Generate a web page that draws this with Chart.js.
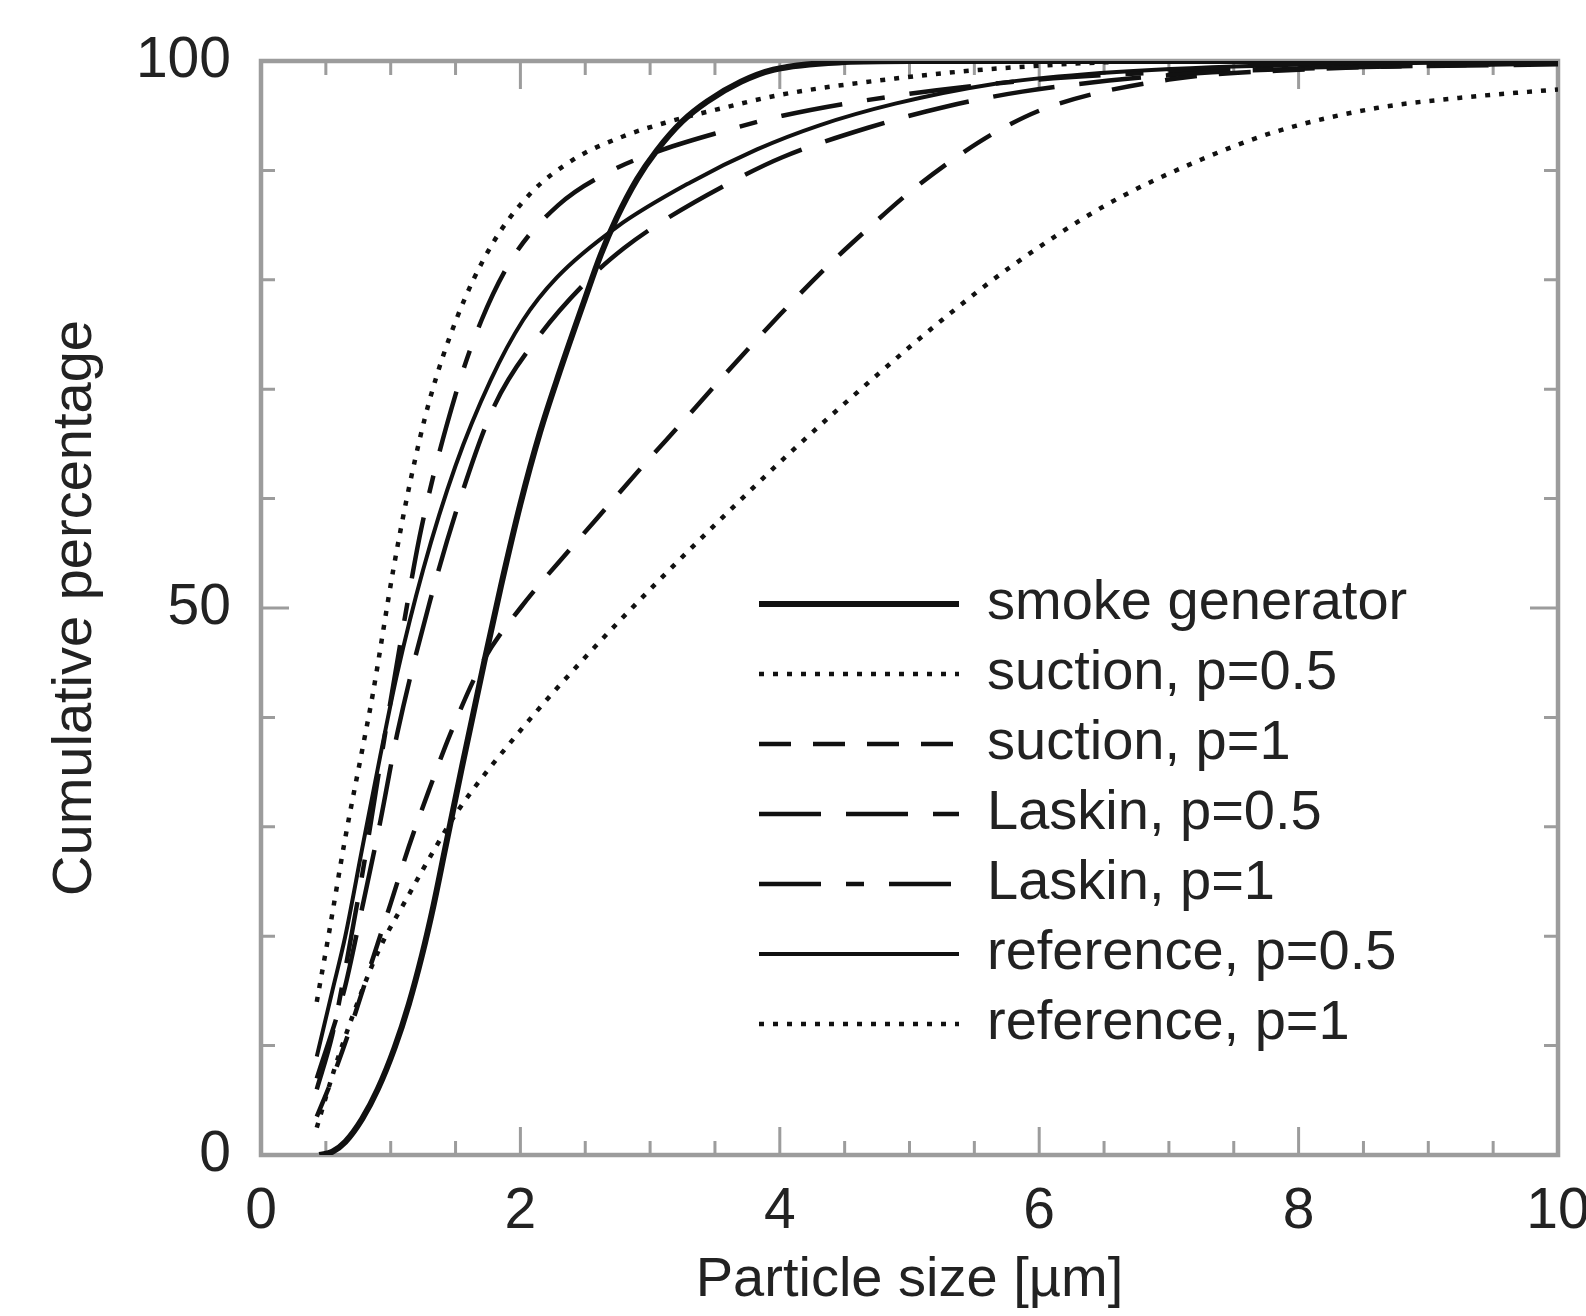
<!DOCTYPE html>
<html>
<head>
<meta charset="utf-8">
<script src="https://cdn.jsdelivr.net/npm/chart.js@4.4.1/dist/chart.umd.min.js"></script>
<style>
    html, body { margin: 0; padding: 0; background: #fff; overflow: hidden; }
    #wrap { width: 1586px; height: 1316px; position: relative; }
</style>
</head>
<body>
<div id="wrap"><canvas id="sizeChart"></canvas></div>
<script>
// cumulative size distributions, [particle size (um), cumulative %]
var smokeGenerator = [[0.45,0],[0.55,0.3],[0.65,1.2],[0.78,3.3],[0.9,6],[1.03,9.8],[1.14,13.8],[1.24,18.2],[1.33,22.8],[1.42,28],[1.55,35.5],[1.72,45],[1.85,52],[2,59.5],[2.15,66],[2.3,71.5],[2.49,78],[2.62,82.3],[2.74,85.6],[2.9,89.2],[3.05,91.8],[3.25,94.5],[3.44,96.3],[3.7,98.1],[3.95,99.2],[4.5,99.9],[5,100],[10,100]];
var suctionHalf = [[0.43,14],[0.52,20],[0.65,29],[0.78,37],[0.86,42],[1.02,53.5],[1.15,61.5],[1.3,69],[1.51,76.5],[1.77,83],[2.07,87.8],[2.41,91],[2.79,93.1],[3.13,94.4],[3.56,95.7],[4,96.9],[4.89,98.4],[5.78,99.4],[7,100],[10,100]];
var suctionOne = [[0.43,3.5],[0.55,7],[0.7,12],[0.85,17.5],[1,23],[1.14,28.2],[1.3,33.5],[1.46,38.5],[1.72,45.3],[2,50],[2.4,55.6],[2.68,59.4],[2.96,63.2],[3.25,67],[3.52,70.6],[4,76.8],[4.39,81.5],[4.71,85],[5,88],[5.36,91.2],[5.71,93.8],[6.1,95.9],[7,98.3],[8,99.2],[10,99.8]];
var laskinHalf = [[0.43,7],[0.64,15],[0.78,22.6],[0.92,30.5],[1.05,38.5],[1.3,50.5],[1.55,60.5],[1.8,68.5],[2.14,74.8],[2.54,80.2],[2.8,82.9],[3.09,85.3],[3.62,88.9],[4.02,91.2],[4.68,93.9],[5.27,95.8],[5.87,97.2],[7,98.7],[8,99.3],[10,99.7]];
var laskinOne = [[0.43,6],[0.55,11],[0.65,17],[0.8,27],[0.95,38],[1.1,48.5],[1.24,57.5],[1.5,69.5],[1.7,76.3],[1.94,82],[2.29,86.8],[2.69,89.9],[3.1,91.9],[3.54,93.5],[4.02,95],[5,97],[6,98.3],[7,99],[8,99.4],[10,99.8]];
var referenceHalf = [[0.43,9],[0.55,15],[0.65,20],[0.78,28],[0.92,36.5],[1.05,44],[1.25,53.5],[1.5,63],[1.77,70.8],[2.02,76.3],[2.28,80.2],[2.74,84.8],[3.31,88.9],[3.82,91.9],[4.3,94.1],[4.89,96.1],[5.65,97.9],[6.36,98.8],[7.5,99.5],[10,100]];
var referenceOne = [[0.43,2.5],[0.57,8],[0.7,12.5],[0.9,18.5],[1.15,24],[1.34,28],[1.52,31.5],[2,38.8],[2.5,45.5],[3.05,52.3],[3.5,57.6],[4.08,64.2],[4.76,71.4],[5.3,76.8],[5.77,81.1],[6.51,86.8],[7.25,91],[7.84,93.6],[8.6,95.7],[9.3,96.7],[10,97.4]];

var seriesLabels = ['smoke generator', 'suction, p=0.5', 'suction, p=1', 'Laskin, p=0.5', 'Laskin, p=1', 'reference, p=0.5', 'reference, p=1'];
var seriesData = [smokeGenerator, suctionHalf, suctionOne, laskinHalf, laskinOne, referenceHalf, referenceOne];
var xTicks = [0, 2, 4, 6, 8, 10];
var yTicks = [0, 50, 100];

// line look for each series, same order as seriesLabels
var lineWidths = [6, 4.5, 4.5, 4.5, 4.5, 4, 4.5];
var lineDashes = [[], [5, 9], [32, 22], [62, 25], [62, 25, 18, 25], [], [5, 9]];

var FONT = "'Liberation Sans', Arial, Helvetica, sans-serif";
var INK = '#222';
var AXIS = '#9c9c9c';

function toPoints(arr) {
    return arr.map(function(p) { return { x: p[0], y: p[1] }; });
}

// frame on all four sides with inward ticks, like the original plot
var frameTicks = {
    id: 'frameTicks',
    beforeDatasetsDraw: function(chart) {
        var ctx = chart.ctx, a = chart.chartArea;
        var xs = chart.scales.x, ys = chart.scales.y;
        ctx.save();
        ctx.strokeStyle = AXIS;
        ctx.lineWidth = 3;
        ctx.beginPath();
        for (var i = 0; i <= 20; i++) {
            var v = i * 0.5;
            var px = xs.getPixelForValue(v);
            var len = xTicks.indexOf(v) >= 0 ? 28 : 14;
            ctx.moveTo(px, a.bottom); ctx.lineTo(px, a.bottom - len);
            ctx.moveTo(px, a.top); ctx.lineTo(px, a.top + len);
        }
        for (var j = 0; j <= 10; j++) {
            var w = j * 10;
            var py = ys.getPixelForValue(w);
            var ylen = yTicks.indexOf(w) >= 0 ? 28 : 14;
            ctx.moveTo(a.left, py); ctx.lineTo(a.left + ylen, py);
            ctx.moveTo(a.right, py); ctx.lineTo(a.right - ylen, py);
        }
        ctx.stroke();
        ctx.lineWidth = 4.5;
        ctx.strokeRect(a.left, a.top, a.right - a.left, a.bottom - a.top);
        ctx.restore();
    }
};

// put the legend inside the plot, lower right
var legendSpot = {
    id: 'legendSpot',
    afterLayout: function(chart) {
        chart.legend.left = 745;
        chart.legend.top = 562;
    }
};

var ctx = document.getElementById('sizeChart').getContext('2d');
var sizeChart = new Chart(ctx, {
    type: 'scatter',
    data: {
        datasets: seriesData.map(function(d, i) {
            return {
                label: seriesLabels[i],
                data: toPoints(d),
                showLine: true,
                fill: false,
                borderColor: '#111',
                backgroundColor: '#111',
                borderWidth: lineWidths[i],
                borderDash: lineDashes[i],
                borderCapStyle: 'butt',
                pointRadius: 0,
                pointHoverRadius: 0,
                cubicInterpolationMode: 'monotone'
            };
        })
    },
    options: {
        responsive: true,
        maintainAspectRatio: false,
        animation: false,
        events: [],
        layout: { padding: { top: 61, right: 28, bottom: 0, left: 0 } },
        scales: {
            x: {
                type: 'linear',
                min: 0,
                max: 10,
                afterBuildTicks: function(s) { s.ticks = xTicks.map(function(v) { return { value: v }; }); },
                afterFit: function(s) { s.height = 161; s.paddingLeft = 0; s.paddingRight = 0; },
                grid: { display: false },
                border: { display: false },
                ticks: { padding: 15, maxRotation: 0, color: INK, font: { family: FONT, size: 57 } },
                title: {
                    display: true,
                    text: 'Particle size [\u00b5m]',
                    color: INK,
                    padding: { top: 0, bottom: 2 },
                    font: { family: FONT, size: 56 }
                }
            },
            y: {
                type: 'linear',
                min: 0,
                max: 100,
                afterBuildTicks: function(s) { s.ticks = yTicks.map(function(v) { return { value: v }; }); },
                afterFit: function(s) { s.width = 261; s.paddingTop = 0; s.paddingBottom = 0; },
                grid: { display: false },
                border: { display: false },
                ticks: { padding: 22, color: INK, font: { family: FONT, size: 57 } },
                title: {
                    display: true,
                    text: 'Cumulative percentage',
                    color: INK,
                    padding: { top: 42, bottom: 0 },
                    font: { family: FONT, size: 56 }
                }
            }
        },
        plugins: {
            tooltip: { enabled: false },
            legend: {
                position: 'chartArea',
                align: 'start',
                labels: {
                    usePointStyle: true,
                    pointStyle: 'line',
                    pointStyleWidth: 200,
                    boxHeight: 56,
                    padding: 14,
                    color: INK,
                    font: { family: FONT, size: 56 },
                    generateLabels: function(chart) {
                        var items = Chart.defaults.plugins.legend.labels.generateLabels(chart);
                        items.forEach(function(it) {
                            var ds = chart.data.datasets[it.datasetIndex];
                            it.lineDash = ds.borderDash;
                            it.lineDashOffset = 0;
                            it.lineWidth = ds.borderWidth;
                            it.strokeStyle = ds.borderColor;
                            it.lineCap = 'butt';
                        });
                        return items;
                    }
                }
            }
        }
    },
    plugins: [frameTicks, legendSpot]
});
</script>
</body>
</html>
